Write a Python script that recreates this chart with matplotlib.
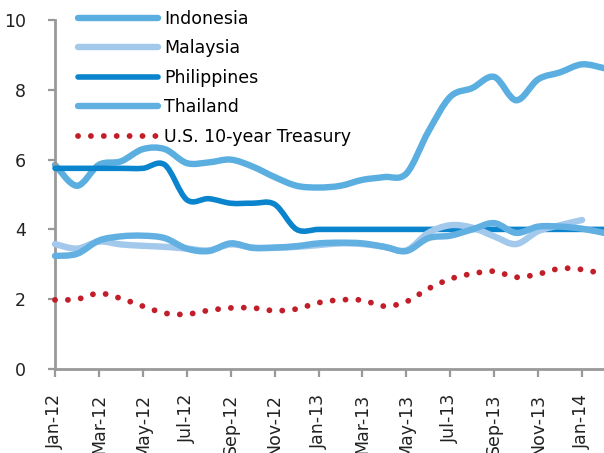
import matplotlib
matplotlib.use("Agg")
import matplotlib.pyplot as plt
from matplotlib.path import Path
from matplotlib.patches import PathPatch
from matplotlib.lines import Line2D
import numpy as np

plt.rcParams['font.family'] = ['Liberation Sans Narrow', 'DejaVu Sans']

# datos mensuales, ene-12 a feb-14
meses = ['Jan-12', 'Feb-12', 'Mar-12', 'Apr-12', 'May-12', 'Jun-12', 'Jul-12',
         'Aug-12', 'Sep-12', 'Oct-12', 'Nov-12', 'Dec-12', 'Jan-13', 'Feb-13',
         'Mar-13', 'Apr-13', 'May-13', 'Jun-13', 'Jul-13', 'Aug-13', 'Sep-13',
         'Oct-13', 'Nov-13', 'Dec-13', 'Jan-14', 'Feb-14']

indonesia = [5.85, 5.25, 5.85, 5.95, 6.3, 6.3, 5.9, 5.92, 6.0, 5.8, 5.5, 5.25,
             5.2, 5.25, 5.42, 5.5, 5.6, 6.8, 7.8, 8.05, 8.37, 7.7, 8.3, 8.5,
             8.73, 8.62]
malaysia = [3.58, 3.45, 3.65, 3.57, 3.53, 3.5, 3.45, 3.4, 3.57, 3.48, 3.47, 3.5,
            3.55, 3.6, 3.58, 3.5, 3.4, 3.9, 4.12, 4.05, 3.8, 3.58, 3.95, 4.12,
            4.27]
philippines = [5.75, 5.75, 5.75, 5.75, 5.75, 5.85, 4.85, 4.88, 4.75, 4.75, 4.72,
               4.0, 4.0, 4.0, 4.0, 4.0, 4.0, 4.0, 4.0, 4.0, 4.0, 4.0, 4.0, 4.0,
               4.0, 4.0]
thailand = [3.24, 3.3, 3.68, 3.8, 3.82, 3.75, 3.45, 3.38, 3.6, 3.47, 3.48, 3.52,
            3.6, 3.62, 3.6, 3.5, 3.38, 3.75, 3.82, 4.0, 4.18, 3.9, 4.08, 4.08,
            4.02, 3.9]
treasury = [1.98, 2.0, 2.17, 2.02, 1.8, 1.6, 1.57, 1.68, 1.75, 1.75, 1.67, 1.72,
            1.9, 1.98, 1.97, 1.8, 1.93, 2.3, 2.58, 2.73, 2.8, 2.63, 2.72, 2.88,
            2.85, 2.72]

etiquetas_y = [0, 2, 4, 6, 8, 10]

c_indo = '#5BAEE0'
c_mala = '#A2C9EC'
c_phil = '#0A84CC'
c_thai = '#62B0E2'
c_us = '#C21E2A'
gris = '#999999'

# punteado: puntos redondos separados
punteado = (0, (0.01, 2.2))


# curva suavizada estilo Excel (bezier entre los puntos)
def curva_suave(ax, xs, ys, **kw):
    p = np.column_stack([xs, ys]).astype(float)
    n = len(p)
    verts = [p[0]]
    codes = [Path.MOVETO]
    for i in range(n - 1):
        p0 = p[i - 1] if i > 0 else p[i]
        p3 = p[i + 2] if i + 2 < n else p[i + 1]
        c1 = p[i] + (p[i + 1] - p0) / 6.0
        c2 = p[i + 1] - (p3 - p[i]) / 6.0
        verts += [c1, c2, p[i + 1]]
        codes += [Path.CURVE4] * 3
    patch = PathPatch(Path(verts, codes), fill=False, **kw)
    ax.add_patch(patch)
    return patch


fig = plt.figure(figsize=(6.04, 4.53), dpi=100)
ax = fig.add_axes([55 / 604, 1 - 369 / 453, 1 - 55 / 604, 349 / 453])

lw = 4.6
curva_suave(ax, range(len(indonesia)), indonesia, edgecolor=c_indo, linewidth=lw,
            capstyle='round', joinstyle='round', zorder=2, clip_on=False)
curva_suave(ax, range(len(philippines)), philippines, edgecolor=c_phil, linewidth=4.0,
            capstyle='round', joinstyle='round', zorder=3, clip_on=False)
curva_suave(ax, range(len(malaysia)), malaysia, edgecolor=c_mala, linewidth=lw,
            capstyle='round', joinstyle='round', zorder=4, clip_on=False)
curva_suave(ax, range(len(thailand)), thailand, edgecolor=c_thai, linewidth=lw,
            capstyle='round', joinstyle='round', zorder=5, clip_on=False)
curva_suave(ax, range(len(treasury)), treasury, edgecolor=c_us, linewidth=4.2,
            linestyle=punteado, capstyle='round', zorder=6, clip_on=False)

ax.set_xlim(0, 25)
ax.set_ylim(0, 10)
ax.set_yticks(etiquetas_y)
ax.set_yticklabels([str(v) for v in etiquetas_y])
ax.set_xticks(range(0, 25, 2))
ax.set_xticklabels(meses[0:25:2], rotation=90)

for lado in ['top', 'right']:
    ax.spines[lado].set_visible(False)
for lado in ['left', 'bottom']:
    ax.spines[lado].set_color(gris)
    ax.spines[lado].set_linewidth(2)

ax.tick_params(axis='y', length=5, width=1.6, color=gris, pad=16, labelsize=12.5,
               labelcolor='#222222')
ax.tick_params(axis='x', length=6, width=1.6, color=gris, pad=12, labelsize=12.5,
               labelcolor='#222222')

# leyenda
manijas = [
    Line2D([], [], color=c_indo, linewidth=lw, solid_capstyle='round'),
    Line2D([], [], color=c_mala, linewidth=lw, solid_capstyle='round'),
    Line2D([], [], color=c_phil, linewidth=4.0, solid_capstyle='round'),
    Line2D([], [], color=c_thai, linewidth=lw, solid_capstyle='round'),
    Line2D([], [], color=c_us, linewidth=4.2, linestyle=punteado,
           dash_capstyle='round'),
]
nombres = ['Indonesia', 'Malaysia', 'Philippines', 'Thailand', 'U.S. 10-year Treasury']
fig.legend(manijas, nombres, loc='upper left', bbox_to_anchor=(78 / 604, 1 - 10 / 453),
           frameon=False, fontsize=12.5, handlelength=4.6, handletextpad=0.35,
           labelspacing=0.66, borderpad=0, borderaxespad=0)

fig.savefig('out.png', dpi=100)
